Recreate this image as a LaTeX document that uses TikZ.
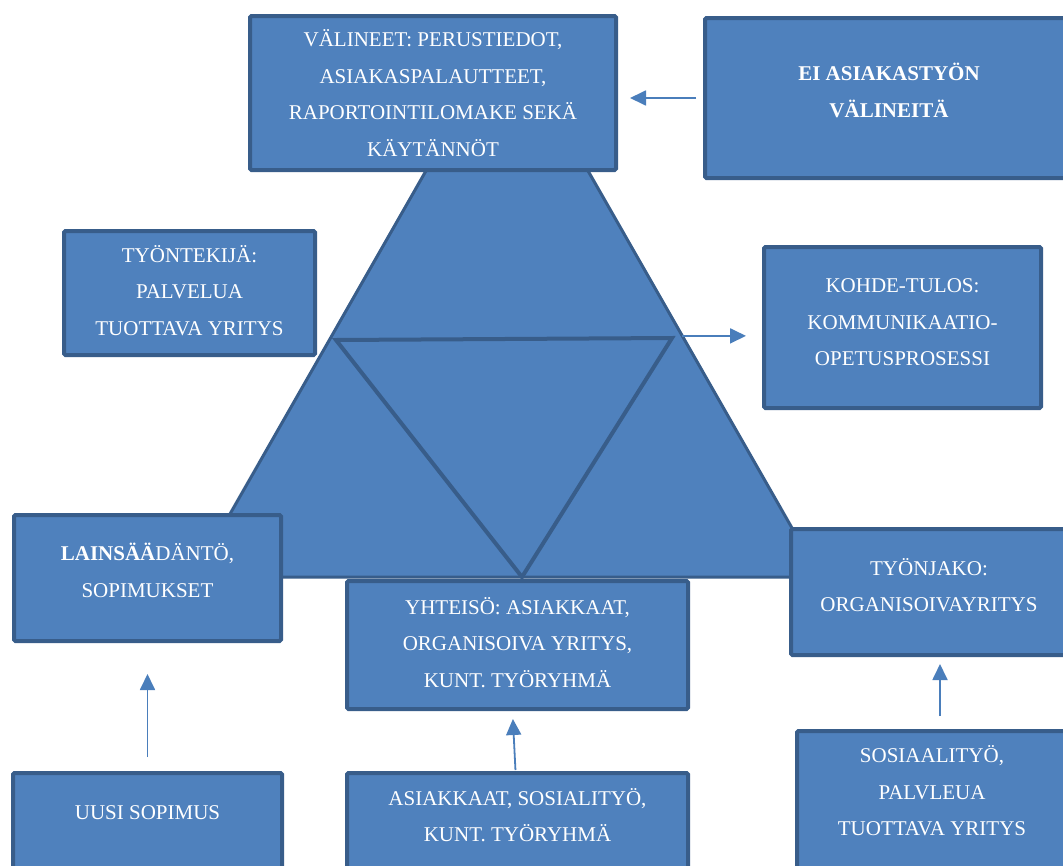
\documentclass[tikz,border=0pt]{standalone}
\usepackage{fontspec}
\setmainfont{Liberation Serif}
\usetikzlibrary{calc,arrows.meta}
\definecolor{boxfill}{HTML}{4F81BD}
\definecolor{boxline}{HTML}{385D8A}
\definecolor{arrowline}{HTML}{4A7EBB}
\tikzset{
  box/.style={draw=boxline, fill=boxfill, line width=4pt, rounded corners=1.5pt,
    text=white, align=center, font=\fontsize{21}{36.5}\selectfont, inner sep=0pt},
  lift/.style={text depth=#1},
  boxtext/.style={text=white, align=center, font=\fontsize{21}{36.5}\selectfont},
  arr/.style={draw=arrowline, line width=1.8pt, -{Triangle[length=16pt,width=15pt]}}
}
\begin{document}
\begin{tikzpicture}[x=1pt,y=-1pt]
		%%%%% FRAME %%%%%
		\useasboundingbox (0,0) rectangle (1063,865);
		\fill[white] (0,0) rectangle (1063,865);
		\clip (0,0) rectangle (1063,865);
		
		%%%%% TRIANGLES %%%%%
		\coordinate (apex) at (507,29);
		\coordinate (lft) at (194,577);
		\coordinate (rgt) at (820,577);
		\draw[boxline, fill=boxfill, line width=3pt] (apex) -- (lft) -- (rgt) -- cycle;
		\draw[boxline, line width=4pt] (336,340) -- (672,338) -- (522,577) -- cycle;
		\coordinate (triout) at ($(apex)!0.56!(rgt)$);
		
		%%%%% BOXES %%%%%
		\node[box, minimum width=366pt, minimum height=154pt] (val) at (433,93)
			{VÄLINEET: PERUSTIEDOT,\\ASIAKASPALAUTTEET,\\RAPORTOINTILOMAKE SEKÄ\\KÄYTÄNNÖT};
		\node[box, lift=16pt, font=\fontsize{21}{37}\selectfont\bfseries, minimum width=368pt, minimum height=160pt] (ei) at (889,98)
			{EI ASIAKASTYÖN\\VÄLINEITÄ};
		\node[box, lift=6pt, minimum width=251pt, minimum height=124pt] (tek) at (189.5,293)
			{TYÖNTEKIJÄ:\\PALVELUA\\TUOTTAVA YRITYS};
		\node[box, lift=10pt, minimum width=277pt, minimum height=161pt] (kohde) at (902.5,327.5)
			{KOHDE-TULOS:\\KOMMUNIKAATIO-\\OPETUSPROSESSI};
		\node[box, lift=15pt, minimum width=267pt, minimum height=126pt] (laki) at (147.5,578)
			{\textbf{LAINSÄÄ}DÄNTÖ,\\SOPIMUKSET};
		\node[box, lift=6pt, minimum width=341pt, minimum height=128pt] (yht) at (517.5,645)
			{YHTEISÖ: ASIAKKAAT,\\ORGANISOIVA YRITYS,\\KUNT. TYÖRYHMÄ};
		\node[box, lift=14pt, minimum width=276pt, minimum height=126pt] (jako) at (929,592)
			{TYÖNJAKO:\\ORGANISOIVAYRITYS};
		
		% bottom row runs off the page
		\node[box, anchor=north, minimum width=269pt, minimum height=160pt] (uusi) at (147.5,771) {};
		\node[boxtext] (uusitxt) at ($(uusi.north)+(0,42)$) {UUSI SOPIMUS};
		\node[box, anchor=north, minimum width=341pt, minimum height=160pt] (asi) at (517.5,771) {};
		\node[boxtext] (asitxt) at ($(asi.north)+(0,44)$) {ASIAKKAAT, SOSIALITYÖ,\\KUNT. TYÖRYHMÄ};
		\node[box, anchor=north, minimum width=270pt, minimum height=180pt] (sos) at (932,729) {};
		\node[boxtext] (sostxt) at ($(sos.north)+(0,62)$) {SOSIAALITYÖ,\\PALVLEUA\\TUOTTAVA YRITYS};
		
		%%%%% ARROWS %%%%%
		\draw[arr, shorten <=7pt, shorten >=12pt] (ei.west) -- (ei.west -| val.east);
		\draw[arr, shorten >=16pt] (triout) -- (triout -| kohde.west);
		\draw[arr, shorten <=14pt, shorten >=31pt] (uusi.north) -- (laki.south);
		\draw[arr, shorten <=1pt, shorten >=8pt] ([xshift=-2pt]asi.north) -- ([xshift=-5pt]yht.south);
		\draw[arr, shorten <=13pt, shorten >=7pt] ([xshift=8pt]sos.north) -- ([xshift=8pt]sos.north |- jako.south);
		
		%%%%% END %%%%%
	\end{tikzpicture}
\end{document}
